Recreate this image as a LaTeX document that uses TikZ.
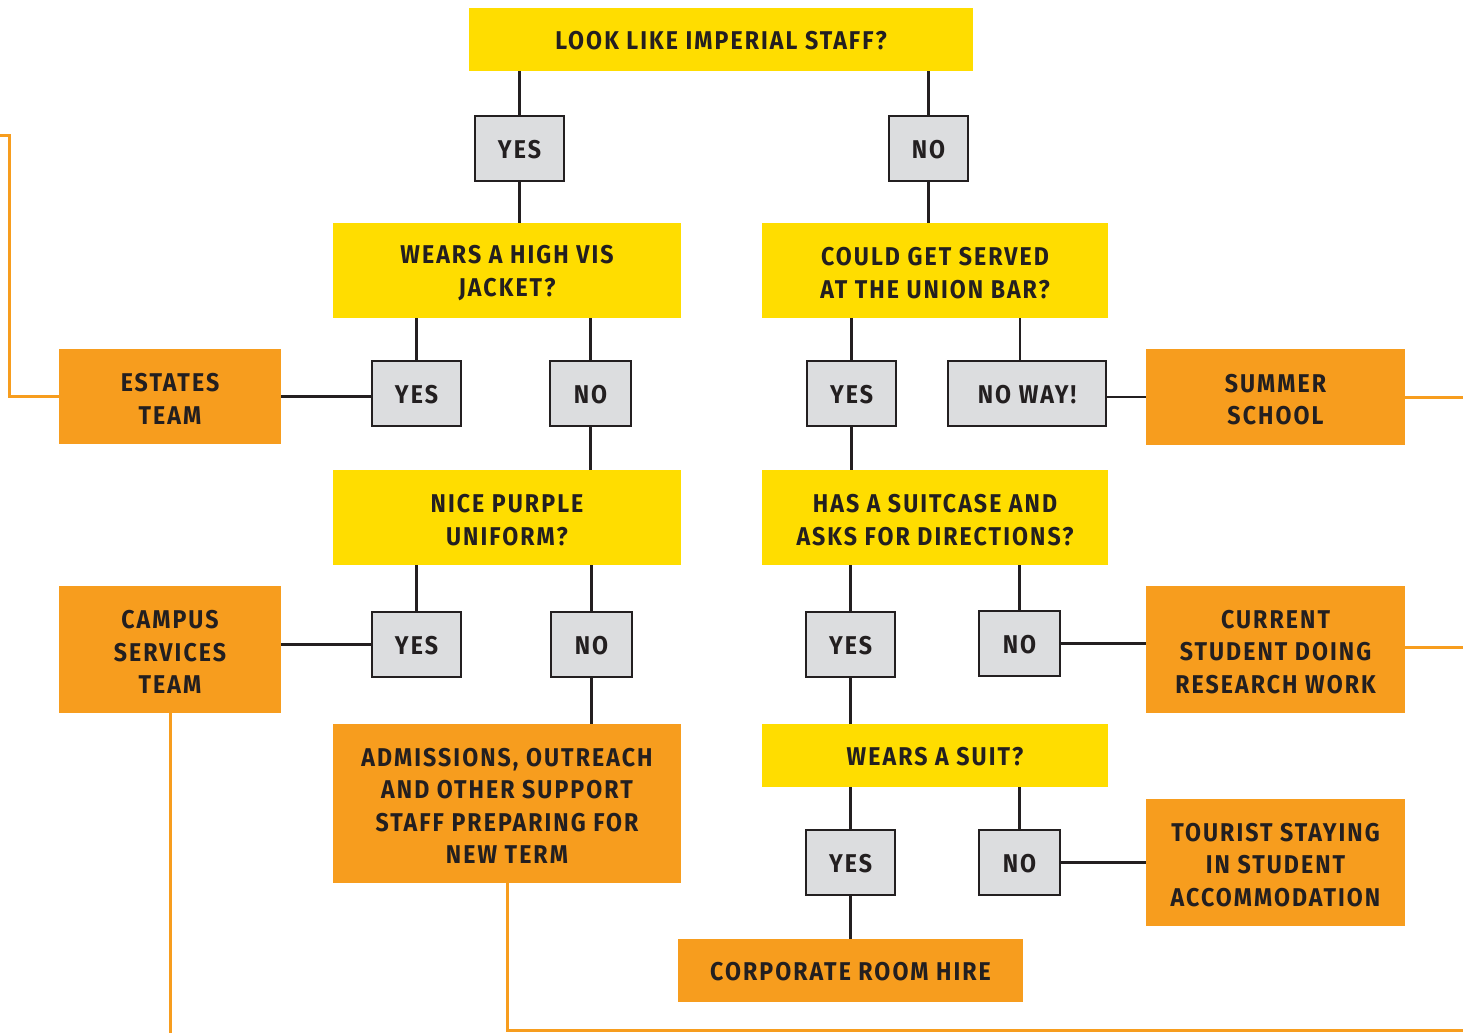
\documentclass[tikz,border=0pt]{standalone}
\usepackage{fontspec}
\newfontfamily\labfont{Fira Sans}[UprightFont=* Bold, FakeStretch=0.9, LetterSpace=8]
\newcommand\ts{\rule{0pt}{20.5pt}}
\newcommand\tp{\rule{0pt}{23pt}}
\definecolor{ylw}{HTML}{FFDD00}
\definecolor{org}{HTML}{F79D1E}
\definecolor{gry}{HTML}{DCDDDF}
\definecolor{ink}{HTML}{231F20}
\tikzset{
  lab/.style={font=\labfont\fontsize{25.7}{32.5}\selectfont, text=ink, align=center, inner sep=0pt,
    execute at begin node={\ts}},
  qbox/.style={lab, fill=ylw},
  ansbox/.style={lab, fill=gry, draw=ink, line width=2.8pt},
  resbox/.style={lab, fill=org},
  conn/.style={draw=ink, line width=2.6pt},
  oconn/.style={draw=org, line width=3pt},
}
\begin{document}
\begin{tikzpicture}[x=1pt,y=-1pt]
\useasboundingbox (0,0) rectangle (1463,1033);
% questions
\node[qbox, minimum width=504pt, minimum height=63pt] (top) at (721,39.5) {LOOK LIKE IMPERIAL STAFF?};
\node[qbox, minimum width=348pt, minimum height=95pt] (wears) at (507,270.5) {\tp WEARS A HIGH VIS\\JACKET?};
\node[qbox, minimum width=346pt, minimum height=95pt] (could) at (935,270.5) {\tp COULD GET SERVED\\AT THE UNION BAR?};
\node[qbox, minimum width=348pt, minimum height=95pt] (nice) at (507,517.5) {\tp NICE PURPLE\\UNIFORM?};
\node[qbox, minimum width=346pt, minimum height=95pt] (has) at (935,517.5) {\tp HAS A SUITCASE AND\\ASKS FOR DIRECTIONS?};
\node[qbox, minimum width=346pt, minimum height=63pt] (suit) at (935,755.5) {WEARS A SUIT?};
% answers
\node[ansbox, minimum width=89pt, minimum height=65pt] (yes1) at (519.5,148.5) {YES};
\node[ansbox, minimum width=79pt, minimum height=65pt] (no1) at (928.5,148.5) {NO};
\node[ansbox, minimum width=89pt, minimum height=65pt] (yes2) at (416.5,393.5) {YES};
\node[ansbox, minimum width=81pt, minimum height=65pt] (no2) at (590.5,393.5) {NO};
\node[ansbox, minimum width=89pt, minimum height=65pt] (yes3) at (851.5,393.5) {YES};
\node[ansbox, minimum width=158pt, minimum height=65pt] (noway) at (1027,393.5) {NO WAY!};
\node[ansbox, minimum width=89pt, minimum height=65pt] (yes4) at (416.5,644.5) {YES};
\node[ansbox, minimum width=81pt, minimum height=65pt] (no4) at (591.5,644.5) {NO};
\node[ansbox, minimum width=89pt, minimum height=65pt] (yes5) at (850.5,644.5) {YES};
\node[ansbox, minimum width=81pt, minimum height=65pt] (no5) at (1019.5,643.5) {NO};
\node[ansbox, minimum width=89pt, minimum height=65pt] (yes6) at (850.5,862.5) {YES};
\node[ansbox, minimum width=81pt, minimum height=65pt] (no6) at (1019.5,862.5) {NO};
% results
\node[resbox, minimum width=222pt, minimum height=95pt] (estates) at (170,396.5) {\tp ESTATES\\TEAM};
\node[resbox, minimum width=259pt, minimum height=96pt] (summer) at (1275.5,397) {\tp SUMMER\\SCHOOL};
\node[resbox, minimum width=222pt, minimum height=127pt] (campus) at (170,649.5) {\tp CAMPUS\\SERVICES\\TEAM};
\node[resbox, minimum width=259pt, minimum height=127pt] (current) at (1275.5,649.5) {\tp CURRENT\\STUDENT DOING\\RESEARCH WORK};
\node[resbox, minimum width=348pt, minimum height=159pt] (admiss) at (507,803.5) {\tp ADMISSIONS, OUTREACH\\AND OTHER SUPPORT\\STAFF PREPARING FOR\\NEW TERM};
\node[resbox, minimum width=259pt, minimum height=127pt] (tourist) at (1275.5,862.5) {\tp TOURIST STAYING\\IN STUDENT\\ACCOMMODATION};
\node[resbox, minimum width=345pt, minimum height=63pt] (corp) at (850.5,970.5) {CORPORATE ROOM HIRE};
% free ends
\coordinate (eL) at (0,135);
\coordinate (sR) at (1463,397);
\coordinate (cR) at (1463,647);
\coordinate (cB) at (170,1033);
\coordinate (bR) at (1463,1030);
% black connectors
\begin{scope}[conn]
\draw (yes1.north |- top.south) -- (yes1.north);
\draw (no1.north |- top.south) -- (no1.north);
\draw (yes1.south) -- (yes1.south |- wears.north);
\draw (no1.south) -- (no1.south |- could.north);
\draw (yes2.north |- wears.south) -- (yes2.north);
\draw (no2.north |- wears.south) -- (no2.north);
\draw (estates.east) -- (estates.east -| yes2.west);
\draw (no2.south) -- (no2.south |- nice.north);
\draw (yes3.north |- could.south) -- (yes3.north);
\draw (1020,0 |- could.south) -- (1020,0 |- noway.north);
\draw (summer.west -| noway.east) -- (summer.west);
\draw (yes3.south) -- (yes3.south |- has.north);
\draw (yes4.north |- nice.south) -- (yes4.north);
\draw (no4.north |- nice.south) -- (no4.north);
\draw (yes5.north |- has.south) -- (yes5.north);
\draw (no5.north |- has.south) -- (no5.north);
\draw (yes4.west -| campus.east) -- (yes4.west);
\draw (no5.east) -- (no5.east -| current.west);
\draw (no4.south) -- (no4.south |- admiss.north);
\draw (yes5.south) -- (yes5.south |- suit.north);
\draw (yes6.north |- suit.south) -- (yes6.north);
\draw (no6.north |- suit.south) -- (no6.north);
\draw (no6.east) -- (no6.east -| tourist.west);
\draw (yes6.south) -- (yes6.south |- corp.north);
\end{scope}
% orange connectors
\begin{scope}[oconn]
\draw (estates.west) -| (9,135) -- (eL);
\draw (summer.east) -- (summer.east -| sR);
\draw (current.east |- cR) -- (cR);
\draw (campus.south) -- (cB);
\draw (admiss.south) |- (bR);
\end{scope}
\end{tikzpicture}
\end{document}
